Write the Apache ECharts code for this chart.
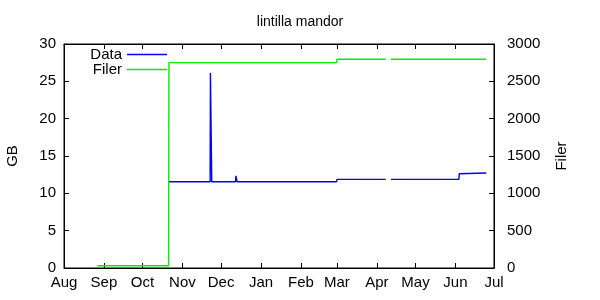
<!DOCTYPE html>
<html><head><meta charset="utf-8">
<script src="https://cdn.jsdelivr.net/npm/echarts@6/dist/echarts.min.js"></script>
<style>html,body{margin:0;padding:0;background:#fff}#c{width:600px;height:300px}</style>
</head><body><div id="c"></div>
<script>
const chartTitle = 'lintilla mandor';
const monthTicks = ['2010-08-01','2010-09-01','2010-10-01','2010-11-01','2010-12-01','2011-01-01','2011-02-01','2011-03-01','2011-04-01','2011-05-01','2011-06-01','2011-07-01'];
const monthNames = ['Jan','Feb','Mar','Apr','May','Jun','Jul','Aug','Sep','Oct','Nov','Dec'];

const dataTimes = ['2010-10-21T12:00','2010-11-22T12:00','2010-11-22T18:00','2010-11-23T12:00','2010-11-23T18:00','2010-12-12T06:00','2010-12-12T12:00','2010-12-13T12:00','2011-02-28T18:00','2011-03-01T00:00','2011-04-08T00:00','2011-04-10T00:00','2011-04-12T00:00','2011-06-03T18:00','2011-06-04T00:00','2011-06-25T00:00'];
const dataGB    = [11.55, 11.55, 26.1, 26.1, 11.55, 11.55, 12.35, 11.55, 11.55, 11.87, 11.87, null, 11.87, 11.87, 12.62, 12.72];

const filerTimes = ['2010-08-27T00:00','2010-10-21T06:00','2010-10-21T12:00','2010-11-22T12:00','2010-11-22T18:00','2010-11-23T06:00','2010-11-23T12:00','2011-02-28T18:00','2011-03-01T00:00','2011-04-08T00:00','2011-04-10T00:00','2011-04-12T00:00','2011-06-25T00:00'];
const filerCount = [30, 30, 2750, 2750, 2775, 2775, 2750, 2750, 2795, 2795, null, 2795, 2795];

const t = s => Date.parse(s.length > 10 ? s + ':00Z' : s + 'T00:00:00Z');
const tickVals = monthTicks.map(t);
const pair = (ts, vs) => ts.map((s, i) => [t(s), vs[i] === null ? '-' : vs[i]]);

const font = 'Liberation Sans, Arial, sans-serif';
const blue = '#0000ff', green = '#00ee00';
const chart = echarts.init(document.getElementById('c'), null, {renderer: 'canvas'});
const xmin = tickVals[0], xmax = tickVals[tickVals.length - 1];
const xAx = (pos, showLabel) => ({type: 'value', min: xmin, max: xmax, position: pos,
     axisLine: {show: true, onZero: false, lineStyle: {color: '#000', width: 1}},
     axisTick: {show: true, inside: true, length: 5, customValues: tickVals, lineStyle: {color: '#000'}},
     axisLabel: {show: showLabel, customValues: tickVals, margin: 7, color: '#000', fontFamily: font, fontSize: 15,
       formatter: v => monthNames[new Date(v).getUTCMonth()]},
     splitLine: {show: false}});
chart.setOption({
  animation: false,
  backgroundColor: '#fff',
  title: {text: chartTitle, left: 'center', top: 15, padding: 0,
    textStyle: {fontFamily: font, fontSize: 14, fontWeight: 'normal', color: '#000'}},
  legend: [
    {data: ['Data'], right: 433, top: 47, padding: 0, align: 'right', icon: 'rect', itemWidth: 40, itemHeight: 1.5,
     textStyle: {fontFamily: font, fontSize: 15, color: '#000'}},
    {data: ['Filer'], right: 433, top: 62, padding: 0, align: 'right', icon: 'rect', itemWidth: 40, itemHeight: 1.5,
     textStyle: {fontFamily: font, fontSize: 15, color: '#000'}}
  ],
  grid: {left: 64, right: 106, top: 44, bottom: 32, show: true, borderColor: '#000', borderWidth: 1,
         containLabel: false, outerBoundsMode: 'none'},
  xAxis: [xAx('bottom', true), xAx('top', false)],
  yAxis: [
    {type: 'value', min: 0, max: 30, interval: 5, position: 'left', name: 'GB', nameLocation: 'middle', nameGap: 44, nameRotate: 90,
     nameTextStyle: {fontFamily: font, fontSize: 15, color: '#000'},
     axisLine: {show: true, lineStyle: {color: '#000'}},
     axisTick: {show: true, inside: true, length: 5, lineStyle: {color: '#000'}},
     axisLabel: {margin: 8, color: '#000', fontFamily: font, fontSize: 15},
     splitLine: {show: false}},
    {type: 'value', min: 0, max: 3000, interval: 500, position: 'right', name: 'Filer', nameLocation: 'middle', nameGap: 60, nameRotate: 90,
     nameTextStyle: {fontFamily: font, fontSize: 15, color: '#000'},
     axisLine: {show: true, lineStyle: {color: '#000'}},
     axisTick: {show: true, inside: true, length: 5, lineStyle: {color: '#000'}},
     axisLabel: {margin: 13, color: '#000', fontFamily: font, fontSize: 15, formatter: v => String(v)},
     splitLine: {show: false}}
  ],
  series: [
    {name: 'Data', type: 'line', xAxisIndex: 0, yAxisIndex: 0, data: pair(dataTimes, dataGB), showSymbol: false, symbol: 'none',
     connectNulls: false, lineStyle: {color: blue, width: 1.4}, itemStyle: {color: blue}, z: 3},
    {name: 'Filer', type: 'line', xAxisIndex: 0, yAxisIndex: 1, data: pair(filerTimes, filerCount), showSymbol: false, symbol: 'none',
     connectNulls: false, lineStyle: {color: green, width: 1.4}, itemStyle: {color: green}, z: 4}
  ]
});
</script></body></html>
